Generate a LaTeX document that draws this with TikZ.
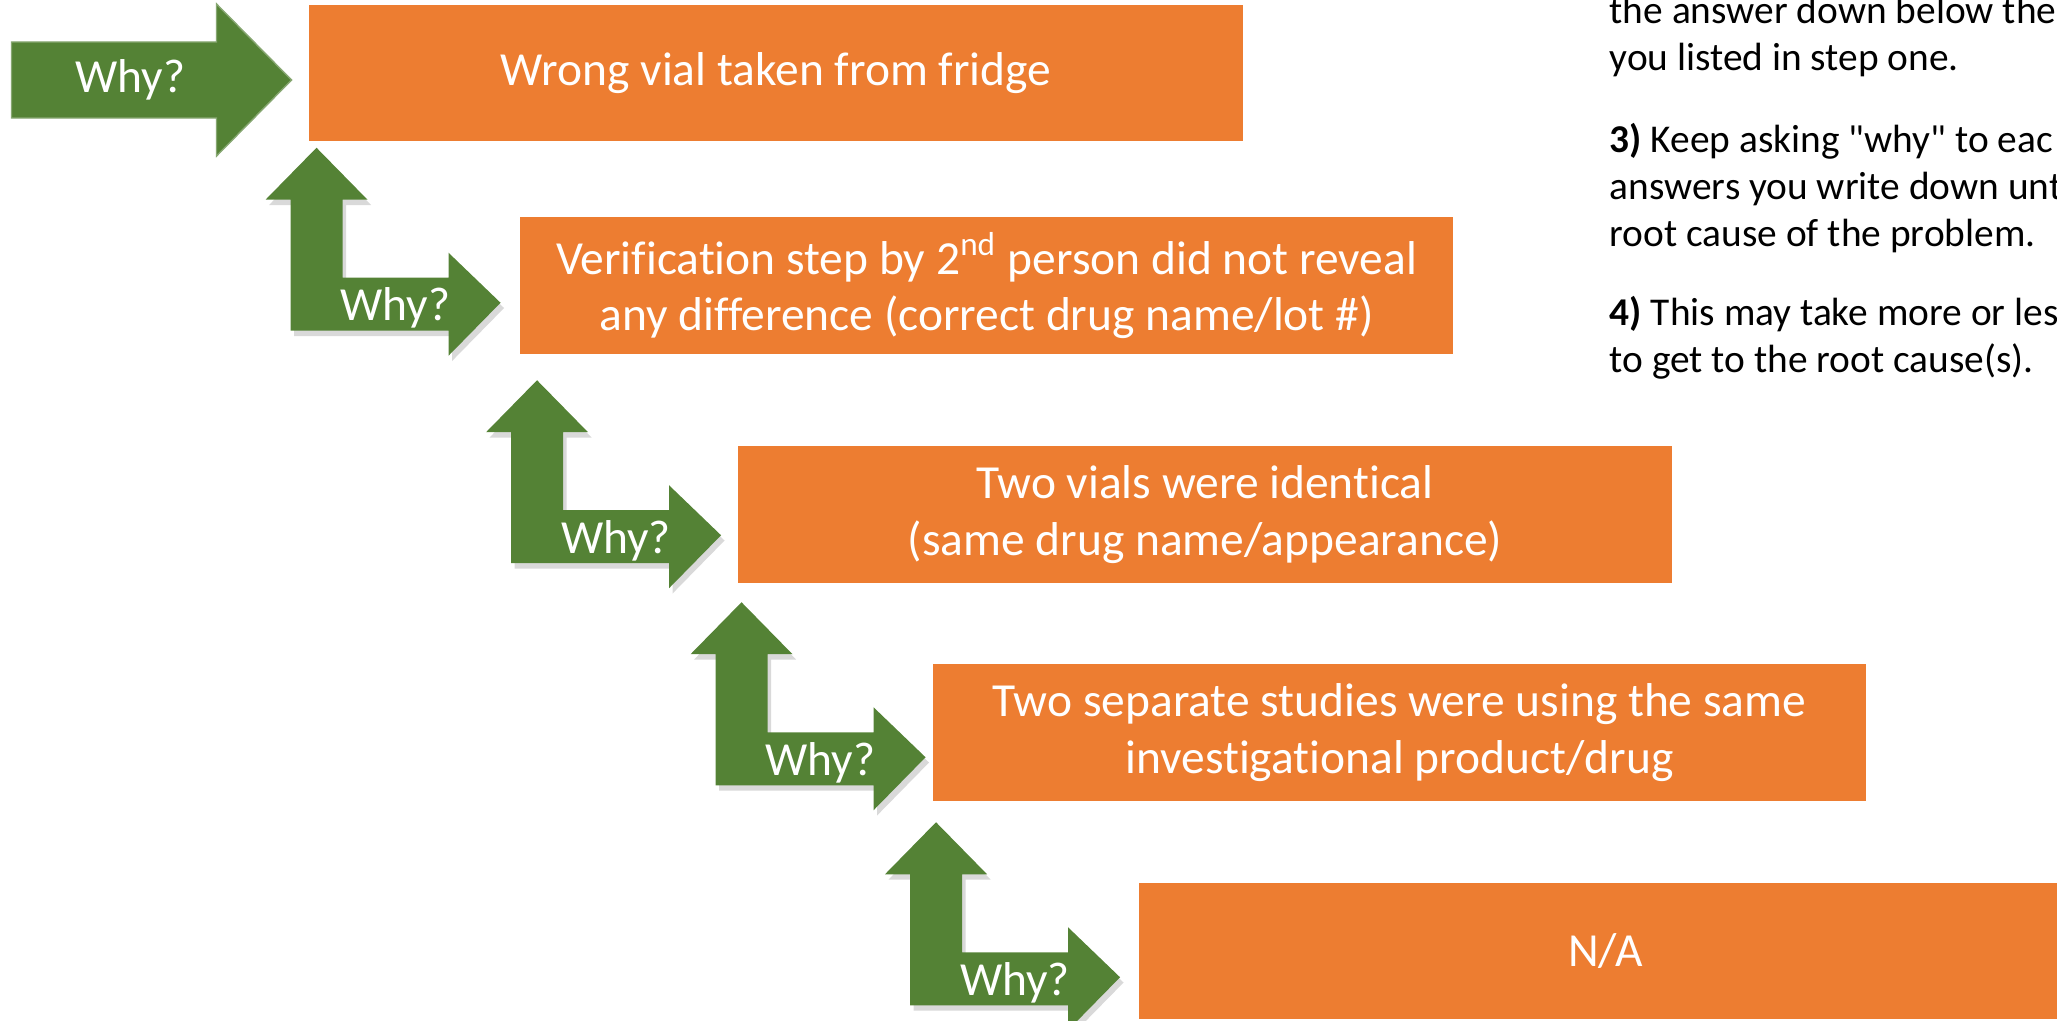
\documentclass[tikz,border=0pt]{standalone}
\usepackage{fontspec}
\setmainfont{Carlito}[Ligatures={NoCommon}]
\usetikzlibrary{calc,shadows}

\definecolor{causeorange}{HTML}{ED7D31}
\definecolor{whygreen}{HTML}{548235}

\begin{document}
\begin{tikzpicture}[x=0.01cm,y=0.01cm,
  causebox/.style={rectangle,fill=causeorange,text=white,minimum width=9.33cm,
    minimum height=1.36cm,align=center,inner sep=0,font=\fontsize{13.5}{16}\selectfont},
  whyshape/.style={fill=whygreen},
  whyshadow/.style={whyshape,drop shadow={shadow xshift=1pt,shadow yshift=-1.5pt,opacity=.3}},
  whytext/.style={text=white,inner sep=0,font=\fontsize{13.5}{16}\selectfont},
  notetext/.style={text=black,inner sep=0,align=left,font=\fontsize{11.2}{13.4}\selectfont}]

  \clip (0,0) rectangle (2057,1020);

  % the five answers, one step down and right each time
  \node (b1) at (776,947) [causebox]{Wrong vial taken from fridge};
  \node (b2) at (986.5,734.5) [causebox]{Verification step by 2\textsuperscript{nd} person did not reveal\\any difference (correct drug name/lot \#)};
  \node (b3) at (1205,505.5) [causebox]{Two vials were identical\\(same drug name/appearance)};
  \node (b4) at (1399.5,287.5) [causebox]{Two separate studies were using the same\\investigational product/drug};
  \node (b5) at (1605.5,69) [causebox]{N/A};

  % first arrow
  \begin{scope}[shift={(b1.west)}]
    \fill[whyshape,draw=whygreen!70!white,line width=0.4pt] (-297,31) -- (-92,31) -- (-92,69) -- (-17,-7)
      -- (-92,-83) -- (-92,-45) -- (-297,-45) -- cycle;
    \node (why0) at (-178,-7) [whytext]{Why?};
  \end{scope}

  % bent arrows between the boxes
  \foreach \b/\dx/\dy in {b1/8/-6,b2/18/-26,b3/4/-19,b4/4/-21}{
    \begin{scope}[shift={($(\b.south west)+(\dx,\dy)$)}]
      \fill[whyshadow] (0,0) -- (51,-52) -- (26,-52) -- (26,-130) -- (132,-130) -- (132,-105)
        -- (184,-155) -- (132,-208) -- (132,-183) -- (-26,-183) -- (-26,-52) -- (-51,-52) -- cycle;
      \node (why\b) at (79,-173) [whytext,anchor=base]{Why?};
    \end{scope}
  }

  \node (notes) at (1609,1025) [notetext,anchor=north west]{the answer down below the\\
    you listed in step one.\\[10pt]
    \textbf{3)} Keep asking \textquotedbl why\textquotedbl{} to eac\\
    answers you write down unt\\
    root cause of the problem.\\[9pt]
    \textbf{4)} This may take more or les\\
    to get to the root cause(s).};

\end{tikzpicture}
\end{document}
